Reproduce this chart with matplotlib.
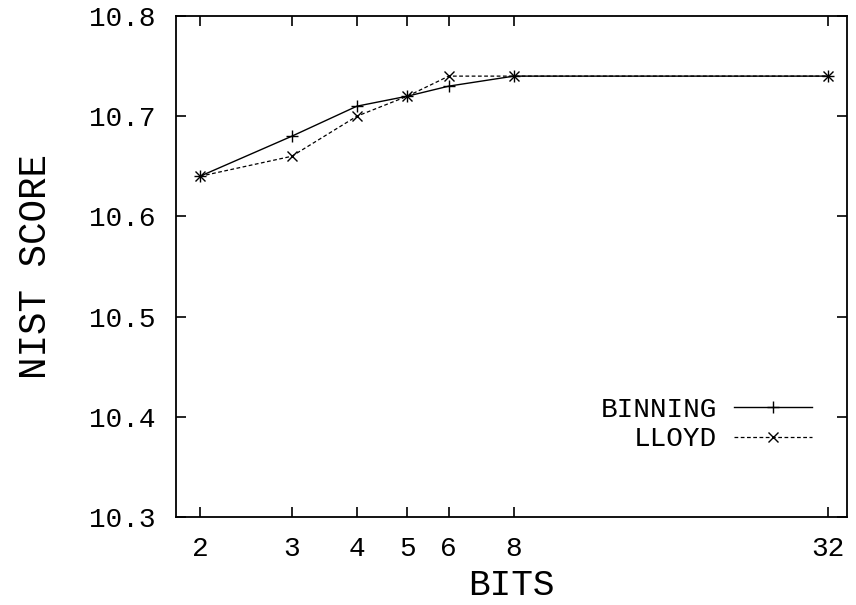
import matplotlib
matplotlib.use('Agg')
import matplotlib.pyplot as plt
from matplotlib.ticker import FixedLocator, NullLocator, FixedFormatter

bits = [2, 3, 4, 5, 6, 8, 32]
binning = [10.64, 10.68, 10.71, 10.72, 10.73, 10.74, 10.74]
lloyd = [10.64, 10.66, 10.70, 10.72, 10.74, 10.74, 10.74]
yticks = [10.3, 10.4, 10.5, 10.6, 10.7, 10.8]

plt.rcParams['font.family'] = ['Liberation Mono', 'DejaVu Sans Mono']

fig = plt.figure(figsize=(8.56, 6.05), dpi=100)
ax = fig.add_axes([176 / 856, 1 - 517 / 605, (847 - 176) / 856, (517 - 16) / 605])

ax.plot(bits, binning, color='black', lw=1.0, ls='-', marker='+', ms=8, mew=1.0,
        label='BINNING')
ax.plot(bits, lloyd, color='black', lw=0.9, ls=(0, (3, 2)), marker='x', ms=7, mew=1.0,
        label='LLOYD')

ax.set_xscale('log', base=2)
ax.set_xlim(1.8, 34.8)
ax.set_ylim(10.3, 10.8)
ax.xaxis.set_major_locator(FixedLocator(bits))
ax.xaxis.set_major_formatter(FixedFormatter([str(b) for b in bits]))
ax.xaxis.set_minor_locator(NullLocator())
ax.set_yticks(yticks)
ax.set_yticklabels(['%.1f' % v for v in yticks])

ax.tick_params(direction='in', length=7, width=1.2, top=True, right=True,
               labelsize=20, colors='black')
ax.tick_params(axis='y', pad=15)
ax.tick_params(axis='x', pad=14)
for s in ax.spines.values():
    s.set_linewidth(1.3)

ax.set_xlabel('BITS', fontsize=26, labelpad=4)
ax.set_ylabel('NIST SCORE', fontsize=27, labelpad=25)

leg = ax.legend(loc='lower right', bbox_to_anchor=(0.964, 0.107), frameon=False,
                fontsize=20, markerfirst=False, handlelength=2.8, handletextpad=0.6,
                labelspacing=0.12, borderaxespad=0)
for t in leg.get_texts():
    t.set_ha('right')

fig.savefig('out.png', dpi=100)
